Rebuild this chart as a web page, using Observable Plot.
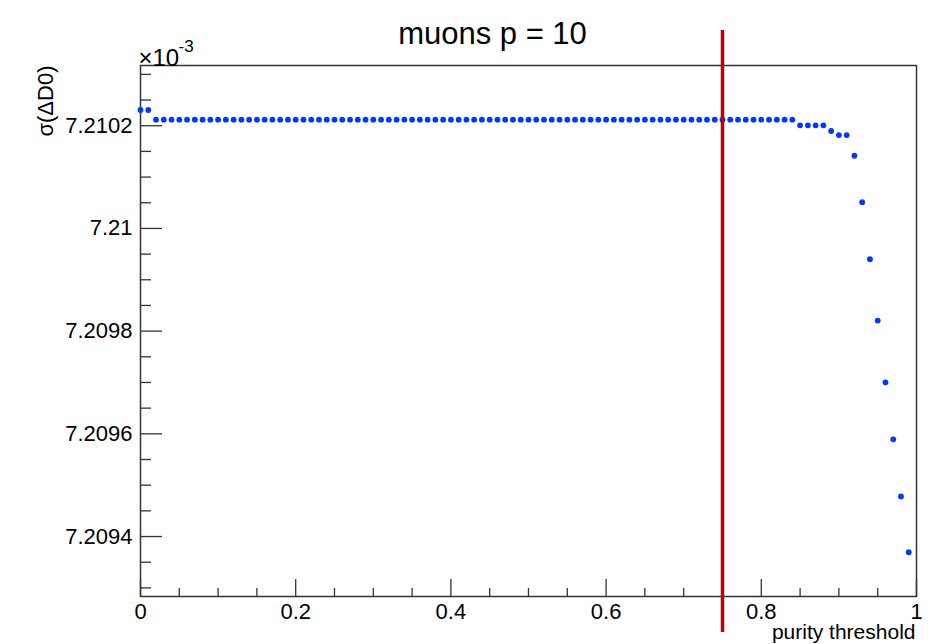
<!DOCTYPE html>
<html>
<head>
<meta charset="utf-8">
<script src="https://cdn.jsdelivr.net/npm/d3@7"></script>
<script src="https://cdn.jsdelivr.net/npm/@observablehq/plot@0.6"></script>
<style>
  html, body { margin: 0; padding: 0; background: #fff; }
</style>
</head>
<body>
<div id="chart"></div>
<script>
// ---- data (y values in units of 1e-3) ----
const purity = [
  0.00, 0.01, 0.02, 0.03, 0.04, 0.05, 0.06, 0.07, 0.08, 0.09,
  0.10, 0.11, 0.12, 0.13, 0.14, 0.15, 0.16, 0.17, 0.18, 0.19,
  0.20, 0.21, 0.22, 0.23, 0.24, 0.25, 0.26, 0.27, 0.28, 0.29,
  0.30, 0.31, 0.32, 0.33, 0.34, 0.35, 0.36, 0.37, 0.38, 0.39,
  0.40, 0.41, 0.42, 0.43, 0.44, 0.45, 0.46, 0.47, 0.48, 0.49,
  0.50, 0.51, 0.52, 0.53, 0.54, 0.55, 0.56, 0.57, 0.58, 0.59,
  0.60, 0.61, 0.62, 0.63, 0.64, 0.65, 0.66, 0.67, 0.68, 0.69,
  0.70, 0.71, 0.72, 0.73, 0.74, 0.75, 0.76, 0.77, 0.78, 0.79,
  0.80, 0.81, 0.82, 0.83, 0.84, 0.85, 0.86, 0.87, 0.88, 0.89,
  0.90, 0.91, 0.92, 0.93, 0.94, 0.95, 0.96, 0.97, 0.98, 0.99
];
const sigmaDD0 = [
  7.2102306, 7.2102306, 7.2102118, 7.2102118, 7.2102118, 7.2102118, 7.2102118, 7.2102118, 7.2102118, 7.2102118,
  7.2102118, 7.2102118, 7.2102118, 7.2102118, 7.2102118, 7.2102118, 7.2102118, 7.2102118, 7.2102118, 7.2102118,
  7.2102118, 7.2102118, 7.2102118, 7.2102118, 7.2102118, 7.2102118, 7.2102118, 7.2102118, 7.2102118, 7.2102118,
  7.2102118, 7.2102118, 7.2102118, 7.2102118, 7.2102118, 7.2102118, 7.2102118, 7.2102118, 7.2102118, 7.2102118,
  7.2102118, 7.2102118, 7.2102118, 7.2102118, 7.2102118, 7.2102118, 7.2102118, 7.2102118, 7.2102118, 7.2102118,
  7.2102118, 7.2102118, 7.2102118, 7.2102118, 7.2102118, 7.2102118, 7.2102118, 7.2102118, 7.2102118, 7.2102118,
  7.2102118, 7.2102118, 7.2102118, 7.2102118, 7.2102118, 7.2102118, 7.2102118, 7.2102118, 7.2102118, 7.2102118,
  7.2102118, 7.2102118, 7.2102118, 7.2102118, 7.2102118, 7.2102118, 7.2102118, 7.2102118, 7.2102118, 7.2102118,
  7.2102118, 7.2102118, 7.2102118, 7.2102118, 7.2102118, 7.2102008, 7.2102008, 7.2102008, 7.2102008, 7.2101897,
  7.2101819, 7.2101819, 7.2101415, 7.2100512, 7.2099401, 7.2098206, 7.2097003, 7.2095892, 7.2094780, 7.2093694
];
const cutValue = [0.75];

const xMajorTicks = [0, 0.2, 0.4, 0.6, 0.8, 1];
const xTickLabels = ["0", "0.2", "0.4", "0.6", "0.8", "1"];
const xMinorTicks = [0.05, 0.1, 0.15, 0.25, 0.3, 0.35, 0.45, 0.5, 0.55, 0.65, 0.7, 0.75, 0.85, 0.9, 0.95];

const yMajorTicks = [7.2094, 7.2096, 7.2098, 7.2100, 7.2102];
const yTickLabels = ["7.2094", "7.2096", "7.2098", "7.21", "7.2102"];
const yMinorTicks = [7.2093, 7.20935, 7.20945, 7.2095, 7.20955, 7.20965, 7.2097, 7.20975,
                     7.20985, 7.2099, 7.20995, 7.21005, 7.2101, 7.21015, 7.21025, 7.2103];

const titleText = "muons p = 10";
const xTitle = "purity threshold";
const yTitle = "σ(ΔD0)";
const exponentBase = "×10";
const exponentPower = "-3";

// ---- layout ----
const W = 928, H = 644;
const mL = 140, mR = 12, mT = 65, mB = 48;
const innerW = W - mL - mR, innerH = H - mT - mB;
const axisColor = "#333";

const data = purity.map((p, i) => ({p, s: sigmaDD0[i]}));
const xLab = new Map(xMajorTicks.map((v, i) => [v, xTickLabels[i]]));
const yLab = new Map(yMajorTicks.map((v, i) => [v, yTickLabels[i]]));

const chart = Plot.plot({
  width: W, height: H,
  marginLeft: mL, marginRight: mR, marginTop: mT, marginBottom: mB,
  style: {fontFamily: "'Liberation Sans', Arial, Helvetica, sans-serif", fontSize: "22px", background: "#fff", color: "#000"},
  x: {domain: [0, 1]},
  y: {domain: [7.2092832, 7.2103173]},
  marks: [
    Plot.frame({stroke: axisColor, strokeWidth: 1.5}),
    // ticks inward
    Plot.tickX(xMajorTicks, {x: d => d, insetTop: innerH - 17, stroke: axisColor, strokeWidth: 1.3}),
    Plot.tickX(xMinorTicks, {x: d => d, insetTop: innerH - 8, stroke: axisColor, strokeWidth: 1.3}),
    Plot.tickY(yMajorTicks, {y: d => d, insetRight: innerW - 22, stroke: axisColor, strokeWidth: 1.3}),
    Plot.tickY(yMinorTicks, {y: d => d, insetRight: innerW - 11, stroke: axisColor, strokeWidth: 1.3}),
    Plot.axisX(xMajorTicks, {anchor: "bottom", tickSize: 0, tickPadding: 7, tickFormat: d => xLab.get(d), label: null, fontSize: 22}),
    Plot.axisY(yMajorTicks, {anchor: "left", tickSize: 0, tickPadding: 8, tickFormat: d => yLab.get(d), label: null, fontSize: 22}),
    // data
    Plot.dot(data, {x: "p", y: "s", r: 2.9, fill: "#0038ff", stroke: null}),
    // cut line
    Plot.ruleX(cutValue, {x: d => d, stroke: "#c30000", strokeWidth: 3.5, insetTop: -35, insetBottom: -36}),
    // texts
    Plot.text([titleText], {frameAnchor: "top", text: d => d, dx: -36, dy: -44, fontSize: 31, fill: "#000"}),
    Plot.text([xTitle], {frameAnchor: "bottom-right", text: d => d, textAnchor: "end", dx: -1, dy: 42, fontSize: 21, fill: "#000"}),
    Plot.text([yTitle], {frameAnchor: "top-left", text: d => d, textAnchor: "end", rotate: -90, dx: -103, dy: 0, fontSize: 22, fill: "#000"}),
    Plot.text([exponentBase], {frameAnchor: "top-left", text: d => d, textAnchor: "start", dx: -2, dy: -17, fontSize: 24, fill: "#000"}),
    Plot.text([exponentPower], {frameAnchor: "top-left", text: d => d, textAnchor: "start", dx: 38, dy: -26, fontSize: 17, fill: "#000"})
  ]
});
document.getElementById("chart").append(chart);
</script>
</body>
</html>
